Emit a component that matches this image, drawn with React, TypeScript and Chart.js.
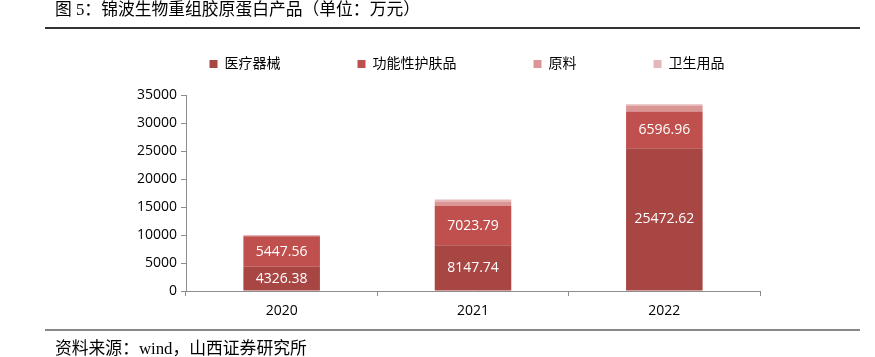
import React, { useEffect, useRef } from "react";
import { Chart, registerables } from "chart.js";

Chart.register(...registerables);

const categories = ["2020", "2021", "2022"];
const seriesNames = ["医疗器械", "功能性护肤品", "原料", "卫生用品"];
const medical = [4326.38, 8147.74, 25472.62];
const skincare = [5447.56, 7023.79, 6596.96];
const rawMaterial = [150, 800, 950];
const hygiene = [80, 380, 320];
const yTicks = [0, 5000, 10000, 15000, 20000, 25000, 30000, 35000];
const colors = ["#A84644", "#C0504D", "#D99694", "#E6B9B8"];

const TITLE = "图 5：锦波生物重组胶原蛋白产品（单位：万元）";
const SOURCE = "资料来源：wind，山西证券研究所";

const serifCJK = '"Liberation Serif", "Noto Sans CJK SC", serif';

const valueLabels = {
  id: "valueLabels",
  afterDatasetsDraw(chart: any) {
    const ctx = chart.ctx;
    ctx.save();
    ctx.font = '14px "Open Sans", sans-serif';
    ctx.fillStyle = "#ffffff";
    ctx.textAlign = "center";
    ctx.textBaseline = "middle";
    [0, 1].forEach((di) => {
      const meta = chart.getDatasetMeta(di);
      const data = chart.data.datasets[di].data as number[];
      meta.data.forEach((el: any, i: number) => {
        const cy = (el.y + el.base) / 2;
        ctx.fillText(data[i].toFixed(2), el.x, cy);
      });
    });
    ctx.restore();
  },
};

export default function App() {
  const ref = useRef<HTMLCanvasElement | null>(null);

  useEffect(() => {
    if (!ref.current) return;
    const seriesData = [medical, skincare, rawMaterial, hygiene];
    const chart = new Chart(ref.current, {
      type: "bar",
      data: {
        labels: categories,
        datasets: seriesData.map((d, i) => ({
          label: seriesNames[i],
          data: d,
          backgroundColor: colors[i],
          borderWidth: 0,
          categoryPercentage: 1,
          barPercentage: 0.4,
          yAxisID: "y",
        })),
      },
      options: {
        animation: false,
        responsive: false,
        devicePixelRatio: 1,
        layout: { padding: { left: 130, right: 71, top: 0, bottom: 36 } },
        plugins: {
          legend: {
            display: true,
            position: "top",
            fullSize: true,
            labels: {
              boxWidth: 8,
              boxHeight: 8,
              padding: 77,
              color: "#000",
              font: { family: serifCJK, size: 14 },
            },
          },
          title: {
            display: true,
            text: "",
            position: "top",
            weight: 500,
            font: { size: 1, lineHeight: 1 },
            padding: { top: 0, bottom: 13 },
          },
          tooltip: { enabled: false },
        },
        scales: {
          x: {
            stacked: true,
            afterFit: (s: any) => {
              s.height = 30;
            },
            grid: {
              display: true,
              drawOnChartArea: false,
              drawTicks: true,
              tickLength: 5,
              color: "#8c8c8c",
              offset: true,
            },
            border: { color: "#8c8c8c", width: 1 },
            ticks: {
              color: "#000",
              padding: 7,
              font: { family: '"Open Sans", sans-serif', size: 14 },
            },
          },
          y: {
            stacked: true,
            min: 0,
            max: 35000,
            position: "left",
            afterFit: (s: any) => {
              s.width = 56;
            },
            afterBuildTicks: (s: any) => {
              s.ticks = yTicks.map((v) => ({ value: v }));
            },
            grid: {
              display: true,
              drawOnChartArea: false,
              drawTicks: true,
              tickLength: 5,
              color: "#8c8c8c",
            },
            border: { color: "#8c8c8c", width: 1 },
            ticks: {
              color: "#000",
              padding: 4,
              autoSkip: false,
              font: { family: '"Open Sans", sans-serif', size: 14 },
              callback: (v: any) => String(v),
            },
          },
          yRight: {
            type: "linear",
            position: "right",
            display: true,
            min: 0,
            max: 35000,
            afterFit: (s: any) => {
              s.width = 44;
            },
            grid: { display: false },
            border: { display: false },
            ticks: { display: false },
          },
        },
      },
      plugins: [valueLabels],
    });
    return () => chart.destroy();
  }, []);

  return (
    <div
      style={{
        position: "fixed",
        left: 0,
        top: 0,
        width: 875,
        height: 357,
        overflow: "hidden",
        background: "#fff",
      }}
    >
      <canvas
        ref={ref}
        width={875}
        height={377}
        style={{ position: "absolute", left: 0, top: -20, width: 875, height: 377 }}
      />
      <div
        style={{
          position: "absolute",
          left: 55,
          top: 0,
          fontFamily: serifCJK,
          fontSize: 16.8,
          lineHeight: "20px",
          color: "#000",
          whiteSpace: "nowrap",
        }}
      >
        {TITLE}
      </div>
      <div
        style={{
          position: "absolute",
          left: 45,
          top: 27,
          width: 815,
          height: 2,
          background: "#333",
        }}
      />
      <div
        style={{
          position: "absolute",
          left: 45,
          top: 329,
          width: 815,
          height: 2,
          background: "#888",
        }}
      />
      <div
        style={{
          position: "absolute",
          left: 55,
          top: 339,
          fontFamily: serifCJK,
          fontSize: 16.8,
          lineHeight: "20px",
          color: "#000",
          whiteSpace: "nowrap",
        }}
      >
        {SOURCE}
      </div>
    </div>
  );
}
